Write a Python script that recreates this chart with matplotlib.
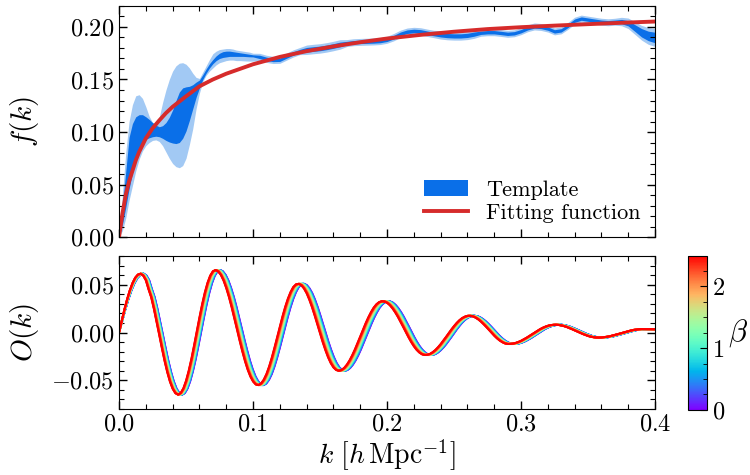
import numpy as np
import matplotlib.pyplot as plt
from matplotlib import cm, colors
from matplotlib.ticker import MultipleLocator, FuncFormatter

plt.rcParams['font.family'] = 'serif'
plt.rcParams['font.serif'] = ['cmr10']
plt.rcParams['mathtext.fontset'] = 'cm'
plt.rcParams['axes.formatter.use_mathtext'] = True

# --- top panel: template bands, k <= 0.1 (step 0.0025) ---
k_low = np.linspace(0.0, 0.1, 41)
outer_hi_low = [0.000, 0.040, 0.080, 0.110, 0.126, 0.1345, 0.1355, 0.132, 0.124, 0.115, 0.109,
                0.108, 0.114, 0.128, 0.140, 0.150, 0.158, 0.163, 0.1655, 0.166, 0.1645,
                0.161, 0.156, 0.152, 0.151, 0.157, 0.163, 0.169, 0.1745, 0.177, 0.1785,
                0.179, 0.1795, 0.1795, 0.179, 0.178, 0.1775, 0.177, 0.1765, 0.176, 0.175]
outer_lo_low = [0.000, 0.006, 0.018, 0.035, 0.049, 0.063, 0.074, 0.082, 0.087, 0.090, 0.092,
                0.0925, 0.091, 0.087, 0.081, 0.075, 0.070, 0.067, 0.066, 0.068, 0.075,
                0.088, 0.103, 0.122, 0.137, 0.148, 0.154, 0.158, 0.161, 0.164, 0.166,
                0.167, 0.168, 0.1685, 0.1685, 0.168, 0.168, 0.1678, 0.1676, 0.1675, 0.1675]
inner_hi_low = [0.000, 0.030, 0.062, 0.095, 0.108, 0.1145, 0.1165, 0.1165, 0.1145, 0.112, 0.109,
                0.1065, 0.105, 0.106, 0.109, 0.114, 0.121, 0.130, 0.138, 0.142, 0.143,
                0.1435, 0.145, 0.1475, 0.1495, 0.1545, 0.160, 0.165, 0.169, 0.1725, 0.175,
                0.1765, 0.177, 0.177, 0.1765, 0.176, 0.1755, 0.175, 0.1745, 0.174, 0.1735]
inner_lo_low = [0.000, 0.012, 0.028, 0.046, 0.061, 0.075, 0.084, 0.090, 0.093, 0.0945, 0.0955,
                0.096, 0.0955, 0.094, 0.092, 0.0905, 0.0895, 0.089, 0.090, 0.094, 0.101,
                0.111, 0.122, 0.133, 0.142, 0.150, 0.156, 0.161, 0.165, 0.168, 0.170,
                0.171, 0.1715, 0.172, 0.172, 0.172, 0.172, 0.172, 0.1718, 0.1716, 0.1715]

# --- top panel: template band, k > 0.1 (centre and half widths) ---
k_high = np.linspace(0.105, 0.4, 60)
centre_high = [0.1715, 0.1697, 0.1686, 0.1688, 0.1718, 0.1748, 0.1771, 0.1783, 0.1790, 0.1796,
               0.1806, 0.1819, 0.1834, 0.1847, 0.1855, 0.1858, 0.1860, 0.1862, 0.1866, 0.1878,
               0.1903, 0.1935, 0.1955, 0.1962, 0.1958, 0.1945, 0.1933, 0.1925, 0.1918, 0.1915,
               0.1915, 0.1920, 0.1932, 0.1945, 0.1950, 0.1950, 0.1943, 0.1935, 0.1940, 0.1960,
               0.1988, 0.2005, 0.2000, 0.1985, 0.1958, 0.1968, 0.2010, 0.2060, 0.2080, 0.2070,
               0.2060, 0.2050, 0.2045, 0.2050, 0.2052, 0.2035, 0.1990, 0.1945, 0.1915, 0.1900]
inner_hw_high = ([0.0016] * 7 + [0.0022] * 6 + [0.0016] * 7 + [0.0017] * 7 + [0.0020] * 6
                 + [0.0016] * 21 + [0.0020, 0.0025, 0.0032, 0.0040, 0.0045, 0.0050])
outer_hw_high = ([0.0034] * 7 + [0.0045] * 6 + [0.0033] * 7 + [0.0035] * 7 + [0.0040] * 6
                 + [0.0033] * 21 + [0.0040, 0.0050, 0.0060, 0.0070, 0.0080, 0.0085])

# --- top panel: fitting function ---
k_fit = [0, 0.0025, 0.005, 0.0075, 0.01, 0.0125, 0.015, 0.02, 0.025, 0.03, 0.035, 0.04, 0.05,
         0.06, 0.07, 0.08, 0.09, 0.10, 0.12, 0.14, 0.16, 0.18, 0.20, 0.225, 0.25, 0.275, 0.30,
         0.325, 0.35, 0.375, 0.40]
f_fit = [0.0, 0.022, 0.040, 0.053, 0.063, 0.073, 0.081, 0.094, 0.1035, 0.111, 0.118, 0.124,
         0.134, 0.1435, 0.150, 0.1555, 0.160, 0.1645, 0.1715, 0.177, 0.1815, 0.1855, 0.189,
         0.1925, 0.1955, 0.198, 0.1998, 0.2013, 0.2027, 0.204, 0.2052]

# --- bottom panel: O(k) for beta = 2.5, step 0.002 ---
k_osc = np.linspace(0.0, 0.4, 201)
O_top = [0.0, 0.0121, 0.0238, 0.0345, 0.0439, 0.0515, 0.0572, 0.0605, 0.0615, 0.0596,
         0.0547, 0.0453, 0.0369, 0.0249, 0.0115, -0.0024, -0.0164, -0.0297, -0.0415, -0.0514,
         -0.0588, -0.0634, -0.0650, -0.0633, -0.0585, -0.0506, -0.0401, -0.0277, -0.0137, 0.0009,
         0.0155, 0.0293, 0.0416, 0.0518, 0.0594, 0.0640, 0.0653, 0.0639, 0.0602, 0.0544,
         0.0466, 0.0373, 0.0267, 0.0152, 0.0034, -0.0084, -0.0196, -0.0299, -0.0388, -0.0460,
         -0.0512, -0.0543, -0.0550, -0.0533, -0.0494, -0.0435, -0.0357, -0.0264, -0.0160, -0.0051,
         0.0060, 0.0168, 0.0267, 0.0353, 0.0423, 0.0475, 0.0503, 0.0509, 0.0495, 0.0461,
         0.0411, 0.0344, 0.0266, 0.0178, 0.0086, -0.0009, -0.0100, -0.0184, -0.0259, -0.0320,
         -0.0365, -0.0392, -0.0400, -0.0392, -0.0371, -0.0337, -0.0293, -0.0239, -0.0178, -0.0111,
         -0.0042, 0.0028, 0.0095, 0.0157, 0.0212, 0.0259, 0.0294, 0.0317, 0.0327, 0.0324,
         0.0311, 0.0287, 0.0254, 0.0213, 0.0166, 0.0114, 0.0060, 0.0005, -0.0049, -0.0099,
         -0.0143, -0.0180, -0.0208, -0.0227, -0.0235, -0.0233, -0.0224, -0.0207, -0.0184, -0.0155,
         -0.0122, -0.0085, -0.0047, -0.0007, 0.0031, 0.0067, 0.0100, 0.0128, 0.0150, 0.0165,
         0.0174, 0.0174, 0.0169, 0.0156, 0.0138, 0.0115, 0.0088, 0.0059, 0.0028, -0.0004,
         -0.0033, -0.0060, -0.0083, -0.0101, -0.0114, -0.0120, -0.0119, -0.0116, -0.0109, -0.0099,
         -0.0087, -0.0072, -0.0056, -0.0038, -0.0020, -0.0001, 0.0017, 0.0033, 0.0048, 0.0060,
         0.0070, 0.0077, 0.0080, 0.0081, 0.0079, 0.0074, 0.0067, 0.0058, 0.0047, 0.0035,
         0.0023, 0.0010, -0.0003, -0.0015, -0.0026, -0.0036, -0.0044, -0.0049, -0.0052, -0.0053,
         -0.0052, -0.0049, -0.0045, -0.0040, -0.0033, -0.0026, -0.0018, -0.0010, -0.0001, 0.0007,
         0.0014, 0.0021, 0.0027, 0.0031, 0.0034, 0.0036, 0.0036, 0.0036, 0.0035, 0.0034,
         0.0034]
# extra shift in k of the beta = 0 curve relative to beta = 2.5
shift_k = [0.0, 0.016, 0.045, 0.07, 0.10, 0.13, 0.165, 0.20, 0.23, 0.26, 0.29, 0.325, 0.36, 0.40]
shift_dk = [0.0, 0.0024, 0.0031, 0.0035, 0.0039, 0.0041, 0.0045, 0.0045, 0.0043, 0.0038,
            0.0040, 0.0033, 0.0030, 0.0027]
beta_values = np.linspace(0.0, 2.5, 26)

dark_blue = '#0a6fe8'
light_blue = '#a2c9f4'
red = '#d62b2b'

fig = plt.figure(figsize=(7.5, 4.75), dpi=100)
ax1 = fig.add_axes([0.1587, 0.501, 0.7146, 0.4864])
ax2 = fig.add_axes([0.1587, 0.139, 0.7146, 0.322])
cax = fig.add_axes([0.917, 0.137, 0.026, 0.325])

k_all = np.concatenate([k_low, k_high])
c_high = np.array(centre_high)
outer_lo = np.concatenate([outer_lo_low, c_high - np.array(outer_hw_high)])
outer_hi = np.concatenate([outer_hi_low, c_high + np.array(outer_hw_high)])
inner_lo = np.concatenate([inner_lo_low, c_high - np.array(inner_hw_high)])
inner_hi = np.concatenate([inner_hi_low, c_high + np.array(inner_hw_high)])

ax1.fill_between(k_all, outer_lo, outer_hi, color=light_blue, lw=0)
ax1.fill_between(k_all, inner_lo, inner_hi, color=dark_blue, lw=0, label='Template')
ax1.plot(k_fit, f_fit, color=red, lw=2.8, label='Fitting function')
ax1.set_xlim(0, 0.4)
ax1.set_ylim(0, 0.22)
ax1.set_ylabel(r'$f(k)$', fontsize=21)
ax1.legend(loc='lower right', frameon=False, fontsize=16, handlelength=2.0,
           borderaxespad=0.25, labelspacing=0.15)

cmap = plt.get_cmap('rainbow')
norm = colors.Normalize(vmin=0, vmax=2.5)
for b in beta_values:
    x = k_osc + (1 - b / 2.5) * np.interp(k_osc, shift_k, shift_dk)
    ax2.plot(x, O_top, color=cmap(norm(b)), lw=1.5)
ax2.set_xlim(0, 0.4)
ax2.set_ylim(-0.08, 0.08)
ax2.set_ylabel(r'$O(k)$', fontsize=21)
ax2.set_xlabel(r'$k\ [h\,\mathrm{Mpc}^{-1}]$', fontsize=20, labelpad=1)

for ax in (ax1, ax2):
    ax.xaxis.set_major_locator(MultipleLocator(0.1))
    ax.xaxis.set_minor_locator(MultipleLocator(0.02))
    ax.yaxis.set_major_locator(MultipleLocator(0.05))
    ax.yaxis.set_minor_locator(MultipleLocator(0.01))
    ax.yaxis.set_major_formatter(FuncFormatter(lambda v, p: r'$%.2f$' % v))
    ax.tick_params(which='both', direction='in', top=True, right=True, labelsize=17.5)
    ax.tick_params(which='major', length=6, width=1)
    ax.tick_params(which='minor', length=3.5, width=0.8)
    ax.yaxis.set_label_coords(-0.145, 0.5)
ax1.tick_params(labelbottom=False)
ax2.xaxis.set_major_formatter(FuncFormatter(lambda v, p: r'$%.1f$' % v))

sm = cm.ScalarMappable(norm=norm, cmap=cmap)
cb = fig.colorbar(sm, cax=cax)
cb.set_ticks([0, 1, 2])
cb.ax.yaxis.set_major_formatter(FuncFormatter(lambda v, p: r'$%d$' % v))
cb.ax.yaxis.set_minor_locator(MultipleLocator(0.25))
cb.ax.tick_params(which='both', direction='in', labelsize=17.5)
cb.ax.tick_params(which='major', length=5)
cb.ax.tick_params(which='minor', length=3)
cb.set_label(r'$\beta$', rotation=0, fontsize=22, labelpad=9, va='center')

fig.savefig('out.png', dpi=100)
